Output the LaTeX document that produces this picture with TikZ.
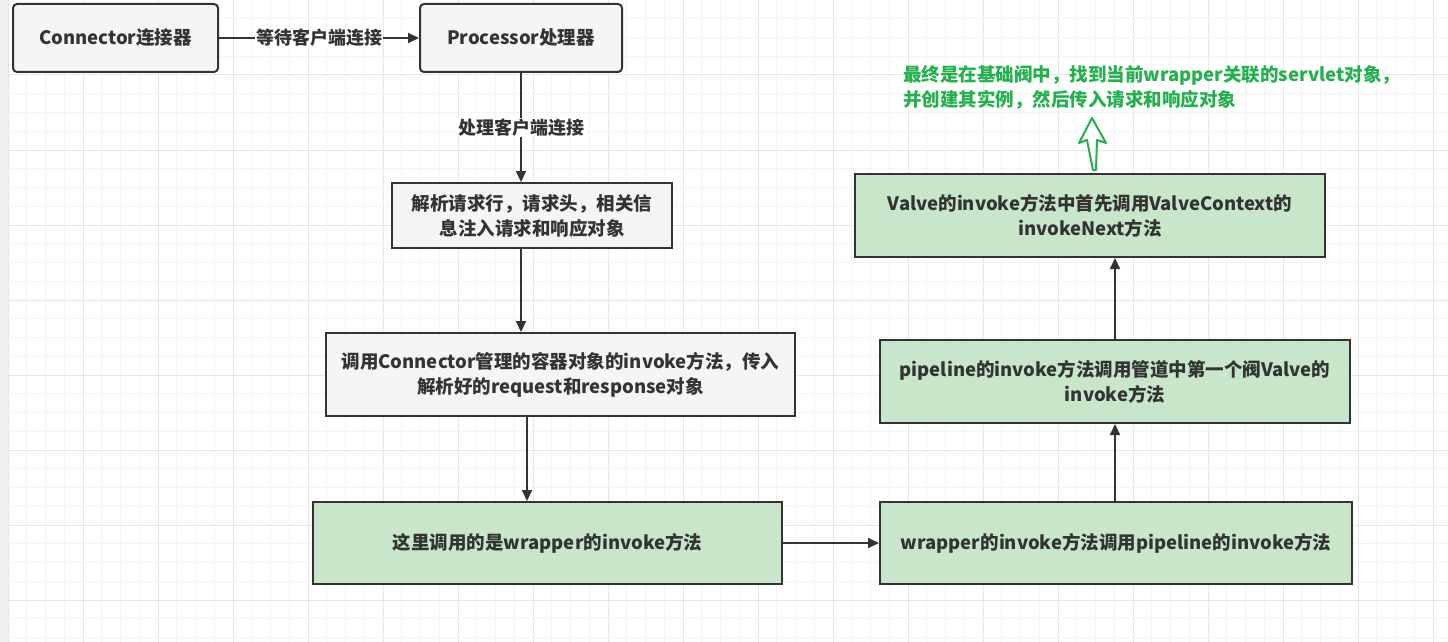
\documentclass[tikz,border=0pt]{standalone}
\usepackage{fontspec}
\setmainfont{Noto Sans CJK SC}
\usetikzlibrary{arrows.meta}
\definecolor{edge}{HTML}{333333}
\definecolor{grayfill}{HTML}{F5F5F5}
\definecolor{greenfill}{HTML}{C8E6C9}
\definecolor{notegreen}{HTML}{22B14C}
\definecolor{gridminor}{HTML}{F4F4F4}
\definecolor{gridmajor}{HTML}{E6E6E6}
\definecolor{stripgray}{HTML}{F0F0F0}
\begin{document}
\begin{tikzpicture}[x=1pt,y=-1pt,
  box/.style={draw=edge, line width=2pt, text=edge, font=\bfseries\fontsize{18.5}{25}\selectfont, align=center, inner sep=0pt},
  graybox/.style={box, fill=grayfill},
  greenbox/.style={box, fill=greenfill},
  arr/.style={draw=edge, line width=2pt, -{Triangle[length=11pt,width=10pt]}},
  elabel/.style={fill=white, text=edge, font=\bfseries\fontsize{18}{20}\selectfont, inner sep=1pt},
  note/.style={text=notegreen, font=\bfseries\fontsize{18.5}{25}\selectfont, align=left, inner sep=0pt, anchor=west}
]
\useasboundingbox (0,0) rectangle (1448,642);
\fill[white] (0,0) rectangle (1448,642);
\fill[stripgray] (0,0) rectangle (8,642);
% grid
\foreach \i in {0,...,77} {
  \pgfmathsetmacro{\xx}{8+18.75*\i}
  \pgfmathtruncatemacro{\m}{mod(\i,4)}
  \ifnum\m=0 \draw[gridmajor, line width=1pt] (\xx,0) -- (\xx,642);
  \else \draw[gridminor, line width=1pt] (\xx,0) -- (\xx,642); \fi
}
\foreach \i in {0,...,34} {
  \pgfmathsetmacro{\yy}{18.75*\i}
  \pgfmathtruncatemacro{\m}{mod(\i,4)}
  \ifnum\m=0 \draw[gridmajor, line width=1pt] (8,\yy) -- (1448,\yy);
  \else \draw[gridminor, line width=1pt] (8,\yy) -- (1448,\yy); \fi
}

% nodes
\node[graybox, rounded corners=4pt, minimum width=205pt, minimum height=68pt] (conn) at (115.5,38) {Connector连接器};
\node[graybox, rounded corners=4pt, minimum width=202pt, minimum height=68pt] (proc) at (521,38) {Processor处理器};
\node[graybox, minimum width=280pt, minimum height=65pt] (parse) at (532,215.5) {解析请求行，请求头，相关信\\息注入请求和响应对象};
\node[graybox, minimum width=469pt, minimum height=83pt] (invoke) at (560.5,374.5) {调用Connector管理的容器对象的invoke方法，传入\\解析好的request和response对象};
\node[greenbox, minimum width=469pt, minimum height=82pt] (wrap) at (547.5,543) {这里调用的是wrapper的invoke方法};
\node[greenbox, minimum width=472pt, minimum height=82pt] (pcall) at (1116,543) {wrapper的invoke方法调用pipeline的invoke方法};
\node[greenbox, minimum width=470pt, minimum height=83pt] (pipe) at (1115,381.5) {pipeline的invoke方法调用管道中第一个阀Valve的\\invoke方法};
\node[greenbox, minimum width=470pt, minimum height=83pt] (valve) at (1090,215.5) {Valve的invoke方法中首先调用ValveContext的\\invokeNext方法};
\node[note] (notetext) at (903,87.5) {最终是在基础阀中，找到当前wrapper关联的servlet对象，\\并创建其实例，然后传入请求和响应对象};

\coordinate (x527) at (527,0);

% connectors
\draw[arr] (conn.east) -- node[elabel] {等待客户端连接} (proc.west);
\draw[arr] (proc.south) -- node[elabel] {处理客户端连接} (parse.north -| proc.south);
\draw[arr] (parse.south -| proc.south) -- (invoke.north -| proc.south);
\draw[arr] (invoke.south -| x527) -- (wrap.north -| x527);
\draw[arr] (wrap.east) -- (pcall.west);
\draw[arr] (pcall.north -| pipe.south) -- (pipe.south);
\draw[arr] (pipe.north) -- (valve.south -| pipe.north);

% hollow green arrow
\draw[notegreen, line width=2pt, line join=round, fill=white]
  (1092,118) -- (1106,143) -- (1097,140) -- (1096,170) -- (1093,170) -- (1087,140) -- (1079,143) -- cycle;
\end{tikzpicture}
\end{document}
